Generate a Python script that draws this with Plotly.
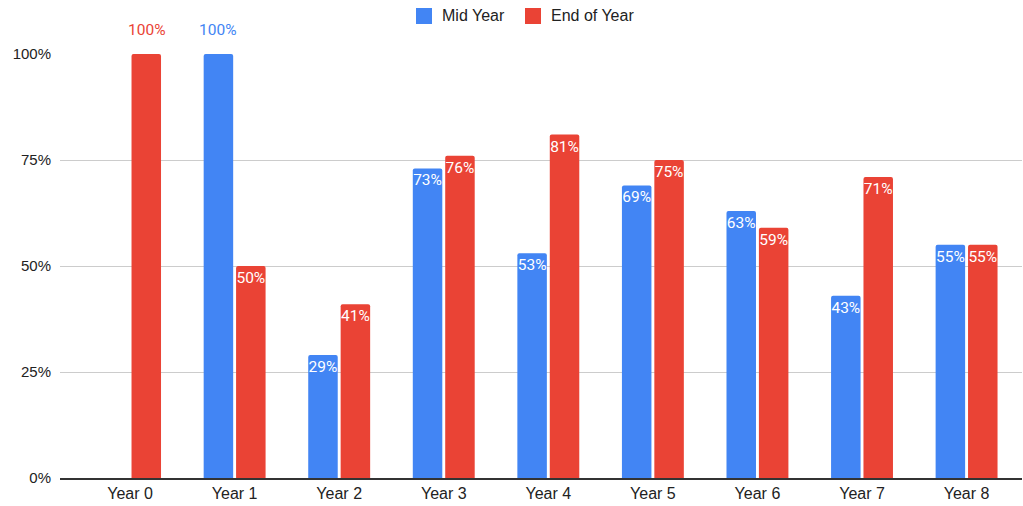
import plotly.graph_objects as go

categories = ["Year 0", "Year 1", "Year 2", "Year 3", "Year 4", "Year 5", "Year 6", "Year 7", "Year 8"]
mid_year = [None, 100, 29, 73, 53, 69, 63, 43, 55]
end_of_year = [100, 50, 41, 76, 81, 75, 59, 71, 55]
y_ticks = [0, 25, 50, 75, 100]
y_tick_labels = ["0%", "25%", "50%", "75%", "100%"]

BLUE = "#4285F4"
RED = "#EA4335"
LABEL_FONT = "Roboto, Arial, sans-serif"
AXIS_FONT = "Liberation Sans, Arial, sans-serif"
TEXT_COLOR = "#222222"
W, H = 1023, 506
PLOT_L, PLOT_R, PLOT_T, PLOT_B = 60, 1022, 54, 478


def bar_trace(name, values, color):
    # Labels sit inside the bar top; full-height bars get their label above instead
    texts = [None if v is None or v >= 100 else f"{v}%" for v in values]
    return go.Bar(
        name=name,
        x=categories,
        y=values,
        marker=dict(color=color, line=dict(width=0)),
        text=texts,
        textposition="inside",
        insidetextanchor="end",
        textangle=0,
        constraintext="none",
        textfont=dict(color="white", size=15.5, family=LABEL_FONT),
        hoverinfo="skip",
        showlegend=False,
    )


fig = go.Figure()
fig.add_trace(bar_trace("Mid Year", mid_year, BLUE))
fig.add_trace(bar_trace("End of Year", end_of_year, RED))

# Labels above bars that reach the top of the axis
for values, color, shift in ((mid_year, BLUE, -16.5), (end_of_year, RED, 16.5)):
    for cat, v in zip(categories, values):
        if v is not None and v >= 100:
            fig.add_annotation(
                x=cat, y=v, text=f"{v}%", showarrow=False,
                xshift=shift, yshift=24, yanchor="middle",
                font=dict(color=color, size=15.5, family=LABEL_FONT),
            )


def px_x(px):
    return (px - PLOT_L) / (PLOT_R - PLOT_L)


def px_y(px):
    return (PLOT_B - px) / (PLOT_B - PLOT_T)


# Legend drawn as square swatches with text, centred above the plot
legend_items = [("Mid Year", BLUE, 416), ("End of Year", RED, 525)]
for label, color, left in legend_items:
    fig.add_shape(
        type="rect", xref="paper", yref="paper",
        x0=px_x(left), x1=px_x(left + 16),
        y0=px_y(24), y1=px_y(8),
        fillcolor=color, line=dict(width=0), layer="above",
    )
    fig.add_annotation(
        xref="paper", yref="paper",
        x=px_x(left + 24), y=px_y(15.5),
        text=label, showarrow=False, xanchor="left", yanchor="middle",
        font=dict(size=16, family=AXIS_FONT, color=TEXT_COLOR),
    )

fig.update_layout(
    width=W,
    height=H,
    margin=dict(l=PLOT_L, r=W - PLOT_R, t=PLOT_T, b=H - PLOT_B),
    paper_bgcolor="white",
    plot_bgcolor="white",
    barmode="group",
    bargap=0.38,
    bargroupgap=0.09,
    barcornerradius=2,
    font=dict(family=AXIS_FONT, size=15, color=TEXT_COLOR),
    showlegend=False,
)

fig.update_xaxes(
    range=[-0.67, 8.53],
    showgrid=False,
    showline=True,
    linecolor="#333333",
    linewidth=1.5,
    ticks="",
    tickfont=dict(size=16, family=AXIS_FONT, color=TEXT_COLOR),
)

fig.update_yaxes(
    range=[0, 100],
    tickvals=y_ticks,
    ticktext=y_tick_labels,
    showgrid=True,
    gridcolor="#cccccc",
    gridwidth=1,
    zeroline=False,
    ticks="",
    ticklabelstandoff=8,
    tickfont=dict(size=15, family=AXIS_FONT, color=TEXT_COLOR),
)

fig.write_html("out.html")
